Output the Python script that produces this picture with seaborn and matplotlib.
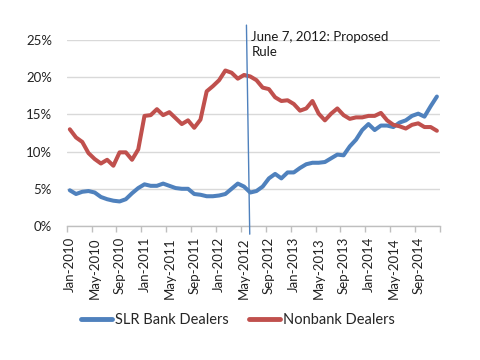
import numpy as np
import pandas as pd
import matplotlib
matplotlib.use("Agg")
import matplotlib.pyplot as plt
from matplotlib.lines import Line2D
import seaborn as sns

# ---- data ----
months = pd.date_range("2010-01-01", periods=60, freq="MS")
month_labels = [d.strftime("%b-%Y") for d in months]
tick_labels = month_labels[::4]

slr_bank = [4.8, 4.3, 4.6, 4.7, 4.5, 3.9, 3.6, 3.4, 3.3, 3.6,
            4.4, 5.1, 5.6, 5.4, 5.4, 5.7, 5.4, 5.1, 5.0, 5.0,
            4.3, 4.2, 4.0, 4.0, 4.1, 4.3, 5.0, 5.7, 5.3, 4.5,
            4.7, 5.3, 6.4, 7.0, 6.4, 7.2, 7.2, 7.8, 8.3, 8.5,
            8.5, 8.6, 9.1, 9.6, 9.5, 10.7, 11.6, 12.9, 13.7, 12.9,
            13.5, 13.5, 13.3, 13.9, 14.2, 14.8, 15.1, 14.7, 16.1, 17.4]
nonbank = [13.0, 11.9, 11.3, 9.8, 9.0, 8.4, 8.9, 8.1, 9.9, 9.9,
           8.9, 10.3, 14.8, 14.9, 15.7, 14.9, 15.3, 14.5, 13.7, 14.2,
           13.2, 14.3, 18.1, 18.8, 19.6, 20.9, 20.6, 19.8, 20.3, 20.1,
           19.6, 18.6, 18.4, 17.3, 16.8, 16.9, 16.4, 15.5, 15.8, 16.8,
           15.1, 14.2, 15.1, 15.8, 14.9, 14.4, 14.6, 14.6, 14.8, 14.8,
           15.2, 14.2, 13.6, 13.4, 13.1, 13.6, 13.8, 13.3, 13.3, 12.8]
series_names = ["SLR Bank Dealers", "Nonbank Dealers"]
y_ticks = [0, 5, 10, 15, 20, 25]
event_label = "June 7, 2012: Proposed\nRule"

blue = "#4F81BD"
red = "#C0504D"

sns.set_theme(style="white")
plt.rcParams["font.family"] = ["Lato", "DejaVu Sans"]

df = pd.DataFrame({"idx": np.arange(len(months)),
                   series_names[0]: slr_bank,
                   series_names[1]: nonbank})
long = df.melt(id_vars="idx", var_name="series", value_name="value")

fig = plt.figure(figsize=(4.8, 3.6), dpi=100)
ax = fig.add_axes([66.7 / 480, 1 - 226 / 360, (440 - 66.7) / 480, (226 - 40) / 360])

sns.lineplot(data=long, x="idx", y="value", hue="series",
             palette=[blue, red], linewidth=2.9, ax=ax, legend=False)

ax.set_xlim(-0.5, 59.5)
ax.set_ylim(0, 25)
ax.set_xlabel("")
ax.set_ylabel("")

ax.set_yticks(y_ticks)
ax.set_yticklabels([f"{v}%" for v in y_ticks], fontsize=9.5, color="#222222")
ax.tick_params(axis="y", length=0, pad=10.5)
ax.yaxis.grid(True, color="#D9D9D9", linewidth=1)
ax.xaxis.grid(False)

ax.set_xticks(np.arange(0, 60, 4))
ax.set_xticklabels(tick_labels, rotation=90, fontsize=9.5, color="#222222")
ax.tick_params(axis="x", which="major", length=0, pad=8)
ax.set_xticks(np.arange(-0.5, 60, 4), minor=True)
ax.tick_params(axis="x", which="minor", length=4, width=1, color="#BFBFBF", bottom=True)

for s in ["left", "top", "right"]:
    ax.spines[s].set_visible(False)
ax.spines["bottom"].set_color("#BFBFBF")
ax.spines["bottom"].set_linewidth(1)

# proposed-rule marker line
ax.plot([28.39, 28.92], [27.0, -1.1], color=blue, linewidth=1, clip_on=False, zorder=5)
ax.text(29.2, 26.2, event_label, fontsize=9.5, color="#1a1a1a",
        va="top", ha="left", linespacing=1.25)

handles = [Line2D([], [], color=blue, linewidth=3.5, solid_capstyle="round"),
           Line2D([], [], color=red, linewidth=3.5, solid_capstyle="round")]
fig.legend(handles, series_names, loc="center", bbox_to_anchor=(238 / 480, 1 - 320.5 / 360),
           ncol=2, frameon=False, fontsize=10.5, handlelength=2.1, handletextpad=0.2,
           columnspacing=1.4)

fig.savefig("out.png", dpi=100)
